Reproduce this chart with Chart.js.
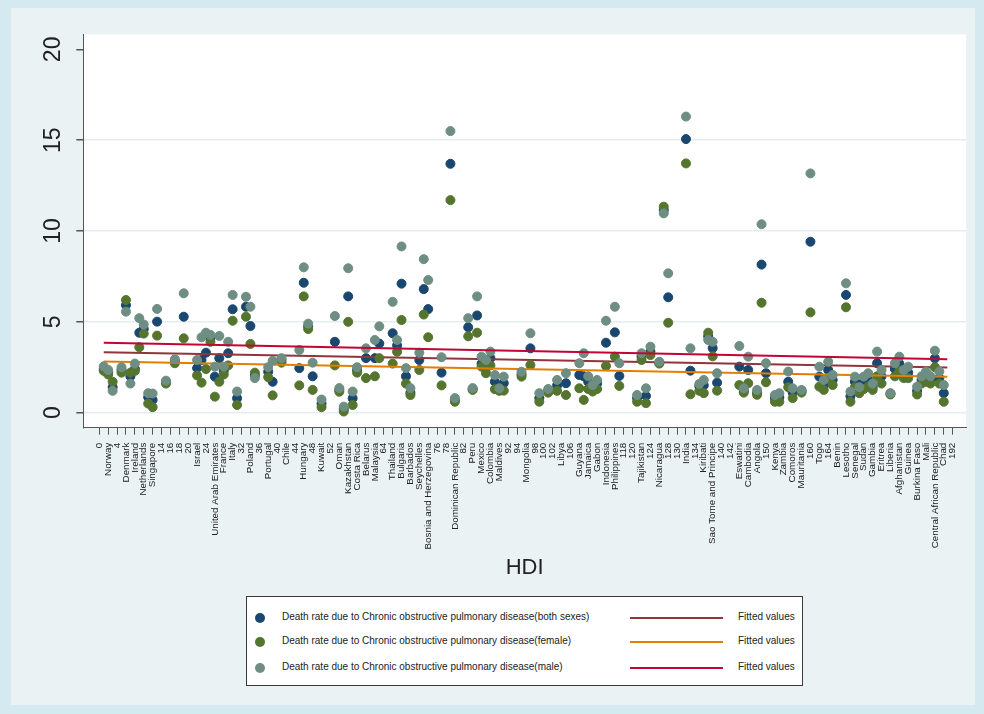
<!DOCTYPE html>
<html>
<head>
<meta charset="utf-8">
<script src="https://cdn.jsdelivr.net/npm/chart.js@4.4.0/dist/chart.umd.min.js"></script>
<style>
  html, body { margin: 0; padding: 0; }
  body { width: 984px; height: 714px; background: #d5e9f0; position: relative; overflow: hidden;
         font-family: "Liberation Sans", Arial, sans-serif; }
  #panel { position: absolute; left: 11px; top: 8px; width: 964px; height: 697px; background: #eaf2f3; }
  #chart { position: absolute; left: 0; top: 0; }
  #legend { position: absolute; left: 235px; top: 588px; width: 557px; height: 90px; box-sizing: border-box;
            background: #fff; border: 1px solid #3a3a3a; }
  .row { position: absolute; left: 0; width: 100%; height: 0; }
  .dot { position: absolute; left: 8px; top: -5px; width: 10px; height: 10px; border-radius: 50%; }
  .txt { position: absolute; left: 35px; top: -7px; font-size: 10px; color: #222; white-space: nowrap; }
  .ln { position: absolute; left: 383px; top: -1px; width: 93px; height: 2px; }
  .fit { position: absolute; left: 491px; top: -7px; font-size: 10px; color: #222; white-space: nowrap; }
</style>
</head>
<body>
<div id="panel">
  <canvas id="chart" width="964" height="697"></canvas>
  <div id="legend"></div>
</div>
<script>
// HDI rank of each country shown
const hdiRank = [1,2,3,5,6,7,8,9,10,11,12,13,15,17,19,22,23,24,25,26,27,28,29,30,31,33,34,35,38,39,41,45,46,47,48,50,
  53,54,55,56,57,58,60,62,63,66,67,68,69,70,72,73,74,77,79,80,83,84,85,86,87,88,89,90,91,95,97,99,101,103,105,108,109,
  110,111,112,114,116,117,121,122,123,124,126,127,128,132,133,135,136,137,138,139,144,145,146,148,149,150,152,153,155,
  156,158,160,162,163,164,165,168,169,170,171,172,173,174,175,176,178,179,180,181,182,184,185,186,187,188,189,190];

const deathBoth = [2.4,2.2,1.4,2.35,5.92,2.0,2.4,4.4,4.6,0.85,0.7,5.01,1.7,2.85,5.28,2.45,2.9,3.3,4.1,1.98,3.0,2.3,3.27,5.69,0.79,
  5.83,4.77,2.05,2.25,1.7,2.9,2.45,7.15,4.75,2.0,0.5,3.9,1.25,0.2,6.4,0.79,2.35,3.0,3.0,3.8,4.37,3.7,7.1,2.0,1.1,2.9,6.8,5.7,
  2.2,13.7,0.7,4.7,1.3,5.35,2.7,2.5,3.0,1.7,1.3,1.62,2.1,3.54,0.8,1.2,1.5,1.62,2.07,2.0,1.7,1.4,1.6,3.85,4.42,2.02,0.8,3.1,
  0.92,3.35,2.75,11.15,6.35,15.06,2.31,1.45,1.5,4.2,3.55,1.65,2.53,1.2,2.35,1.1,8.15,2.17,0.8,0.85,1.7,1.1,1.2,9.41,1.98,
  1.5,2.35,1.8,6.48,0.9,1.7,1.2,1.7,1.8,1.4,2.72,2.0,1.05,2.4,2.7,2.1,2.2,1.2,1.8,2.0,1.8,2.99,1.9,1.07];

const deathFemale = [2.3,2.1,1.7,2.2,6.2,2.2,2.3,3.6,4.35,0.5,0.3,4.24,1.6,2.72,4.09,2.05,1.65,2.4,3.9,0.88,1.7,2.1,2.6,5.06,
  0.42,5.28,3.78,2.2,1.95,0.95,2.75,1.5,6.4,4.6,1.25,0.3,2.6,1.15,0.06,5.0,0.42,2.2,1.9,2.0,3.0,2.7,3.35,5.1,1.6,0.97,2.35,
  5.4,4.15,1.5,11.7,0.6,4.2,1.25,4.4,2.53,2.17,2.6,1.29,1.2,1.21,1.98,2.62,0.6,1.1,1.2,0.97,1.34,0.7,1.3,1.16,1.3,2.57,3.08,
  1.47,0.6,2.9,0.52,3.17,2.7,11.34,4.95,13.72,1.01,1.2,1.07,4.4,3.1,1.21,1.52,1.1,1.62,0.98,6.05,1.67,0.6,0.6,1.4,0.8,1.1,
  5.52,1.43,1.25,1.9,1.52,5.8,0.6,1.4,1.07,1.3,1.43,1.25,2.0,1.6,1.0,2.0,2.3,1.9,1.9,1.0,1.6,1.7,1.6,2.5,1.6,0.6];

const deathMale = [2.55,2.35,1.2,2.5,5.56,1.6,2.7,5.2,4.85,1.07,1.05,5.71,1.76,2.94,6.57,2.9,4.15,4.4,4.28,2.53,4.22,2.53,3.9,
  6.48,1.16,6.38,5.83,1.9,2.5,2.85,3.0,3.45,8.0,4.9,2.75,0.72,5.32,1.35,0.33,7.95,1.16,2.5,3.54,4.0,4.75,6.1,4.0,9.15,2.45,
  1.35,3.3,8.45,7.3,3.05,15.5,0.8,5.2,1.35,6.4,3.08,2.9,3.36,2.07,1.34,1.98,2.25,4.37,1.07,1.3,1.8,2.17,2.72,3.27,2.0,1.52,
  1.8,5.06,5.83,2.72,0.97,3.27,1.34,3.63,2.8,10.97,7.67,16.3,3.54,1.58,1.8,4.0,3.9,2.17,3.67,1.34,3.08,1.25,10.37,2.72,0.97,
  1.07,2.26,1.34,1.25,13.17,2.53,1.8,2.8,2.07,7.12,1.16,1.98,1.4,1.98,2.17,1.6,3.36,2.35,1.07,2.72,3.08,2.35,2.53,1.43,2.0,
  2.26,2.0,3.41,2.26,1.52];

// fitted values, read at both ends of each line
const fitRank = [1, 190.8];
const fitBoth = [3.32, 2.48];
const fitFemale = [2.81, 1.98];
const fitMale = [3.85, 2.94];

const xTickValues = [];
for (let v = 0; v <= 192; v += 2) xTickValues.push(v);
const xTickLabels = ["0","Norway","4","Denmark","Ireland","Netherlands","Singapore","14","16","18","20","Israel","24",
  "United Arab Emirates","France","Italy","32","Poland","36","Portugal","40","Chile","44","Hungary","48","Kuwait","52",
  "Oman","Kazakhstan","Costa Rica","Belarus","Malaysia","64","Thailand","Bulgaria","Barbados","Seychelles",
  "Bosnia and Herzegovina","76","78","Dominican Republic","82","Peru","Mexico","Colombia","Maldives","92","94","Mongolia",
  "98","100","102","Libya","106","Guyana","Jamaica","Gabon","Indonesia","Philippines","118","120","Tajikistan","124",
  "Nicaragua","128","130","India","134","Kiribati","Sao Tome and Principe","140","142","Eswatini","Cambodia","Angola",
  "150","Kenya","Zambia","Comoros","Mauritania","160","Togo","164","Benin","Lesotho","Senegal","Sudan","Gambia","Eritrea",
  "Liberia","Afghanistan","Guinea","Burkina Faso","Mali","Central African Republic","Chad","192"];
const yTickValues = [0, 5, 10, 15, 20];

const seriesNames = [
  "Death rate due to Chronic obstructive pulmonary disease(both sexes)",
  "Death rate due to Chronic obstructive pulmonary disease(female)",
  "Death rate due to Chronic obstructive pulmonary disease(male)"
];
const dotColors = ["#1a476f", "#55752f", "#6e8e84"];
const fitColors = ["#90353b", "#e37e00", "#c10534"];

const FONT = '"Liberation Sans", Arial, sans-serif';

function points(xs, ys) {
  return xs.map((x, i) => ({ x: x, y: ys[i] }));
}

function dotSet(label, values, i, order) {
  return {
    type: "scatter", label: label, data: points(hdiRank, values), order: order,
    backgroundColor: dotColors[i], borderColor: dotColors[i], borderWidth: 1,
    pointRadius: 4.5, pointHoverRadius: 4.5
  };
}

function fitSet(values, i, order) {
  return {
    type: "line", label: "Fitted values", data: points(fitRank, values), order: order,
    borderColor: fitColors[i], borderWidth: 2, pointRadius: 0, showLine: true, fill: false
  };
}

const plotBg = {
  id: "plotBg",
  beforeDraw(chart) {
    const a = chart.chartArea, c = chart.ctx;
    c.save();
    c.fillStyle = "#ffffff";
    c.fillRect(a.left, a.top, a.right - a.left, a.bottom - a.top);
    c.restore();
  }
};

// Stata style vertical y labels
const yLabels = {
  id: "yLabels",
  afterDraw(chart) {
    const s = chart.scales.y, c = chart.ctx;
    c.save();
    c.font = "23px " + FONT;
    c.fillStyle = "#222";
    c.textAlign = "center";
    c.textBaseline = "middle";
    yTickValues.forEach(v => {
      c.save();
      c.translate(42.5, s.getPixelForValue(v));
      c.rotate(-Math.PI / 2);
      c.fillText(String(v), 0, 0);
      c.restore();
    });
    c.restore();
  }
};

new Chart(document.getElementById("chart"), {
  type: "scatter",
  data: {
    datasets: [
      dotSet(seriesNames[0], deathBoth, 0, 6),
      fitSet(fitBoth, 0, 5),
      dotSet(seriesNames[1], deathFemale, 1, 4),
      fitSet(fitFemale, 1, 3),
      dotSet(seriesNames[2], deathMale, 2, 2),
      fitSet(fitMale, 2, 1)
    ]
  },
  options: {
    responsive: false,
    animation: false,
    devicePixelRatio: 1,
    layout: { padding: { top: 26.3, right: 9, bottom: 119.8, left: 0 } },
    plugins: { legend: { display: false }, tooltip: { enabled: false } },
    scales: {
      x: {
        type: "linear", min: -3.6, max: 195,
        afterBuildTicks: s => { s.ticks = xTickValues.map(v => ({ value: v })); },
        afterFit: s => { s.height = 157.5; },
        ticks: {
          autoSkip: false, minRotation: 90, maxRotation: 90, padding: 8,
          font: { size: 9.8, family: FONT }, color: "#222",
          callback: (v, i) => xTickLabels[i]
        },
        grid: { drawOnChartArea: false, tickLength: 7, tickColor: "#555" },
        border: { color: "#555", width: 1 },
        title: { display: true, text: "HDI", font: { size: 22, family: FONT }, color: "#222", padding: { top: 4, bottom: 4 } }
      },
      y: {
        min: -0.83, max: 20.83,
        afterBuildTicks: s => { s.ticks = yTickValues.map(v => ({ value: v })); },
        afterFit: s => { s.width = 72.3; },
        ticks: { display: false },
        grid: {
          color: c => (c.tick && c.tick.value < 20) ? "#e4eef1" : "rgba(0,0,0,0)",
          lineWidth: 1.5, tickLength: 7, tickColor: "#555"
        },
        border: { color: "#555", width: 1 }
      }
    }
  },
  plugins: [plotBg, yLabels]
});

// legend
const legend = document.getElementById("legend");
const rowTops = [21, 45, 71];
seriesNames.forEach((name, i) => {
  const row = document.createElement("div");
  row.className = "row";
  row.style.top = rowTops[i] + "px";
  row.innerHTML =
    '<span class="dot" style="background:' + dotColors[i] + '"></span>' +
    '<span class="txt">' + name + '</span>' +
    '<span class="ln" style="background:' + fitColors[i] + '"></span>' +
    '<span class="fit">Fitted values</span>';
  legend.appendChild(row);
});
</script>
</body>
</html>
